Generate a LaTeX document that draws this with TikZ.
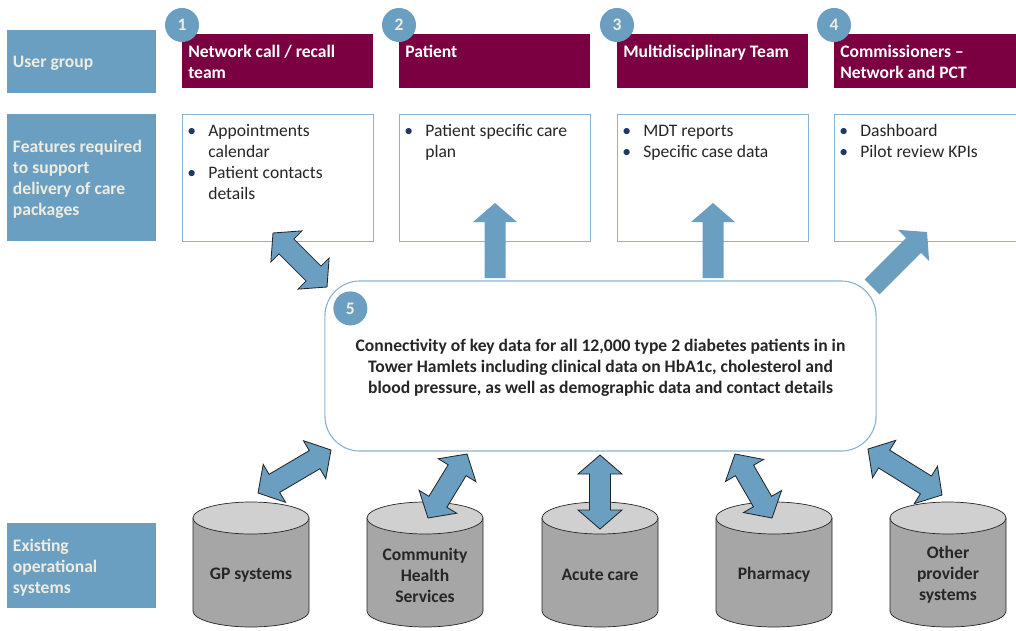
\documentclass[tikz,border=0pt]{standalone}
\usepackage{fontspec}
\setmainfont{Carlito}
\usetikzlibrary{calc,positioning}

\definecolor{steelblue}{RGB}{106,159,193}
\definecolor{plum}{RGB}{123,0,65}
\definecolor{cream}{RGB}{238,236,225}
\definecolor{edgeblue}{RGB}{141,179,210}
\definecolor{navy}{RGB}{31,56,100}
\definecolor{inkgray}{RGB}{38,38,38}
\definecolor{drumbody}{RGB}{166,166,166}
\definecolor{drumtop}{RGB}{208,208,208}

\newcommand\bodyfont{\fontsize{12.5}{14.9}\selectfont}

\tikzset{
    sidebox/.style = {fill=steelblue, minimum width=3.725cm, inner sep=0},
    sidetext/.style = {text=cream, anchor=west, inner sep=0, align=left,
        font=\bodyfont\bfseries},
    headbox/.style = {fill=plum, minimum width=4.775cm, minimum height=1.35cm,
        anchor=north west, inner sep=0},
    headtext/.style = {text=white, anchor=north west, inner sep=0,
        align=left, font=\bodyfont\bfseries},
    featbox/.style = {draw=edgeblue, fill=white, line width=0.8pt,
        minimum width=4.775cm, minimum height=3.175cm,
        anchor=north west, inner sep=0},
    feattext/.style = {text=inkgray, anchor=north west, inner sep=0,
        font=\bodyfont},
    numdot/.style = {circle, fill=steelblue, text=cream, minimum size=0.85cm,
        inner sep=0, font=\bodyfont\bfseries},
    hub/.style = {draw=edgeblue, line width=0.8pt, fill=white,
        rounded corners=0.875cm, minimum width=13.775cm,
        minimum height=4.25cm},
    hubtext/.style = {align=center, text=inkgray, inner sep=0,
        font=\bodyfont\bfseries},
    drum/.style = {fill=drumbody, draw=inkgray, line width=0.5pt},
    drumlid/.style = {fill=drumtop, draw=inkgray, line width=0.5pt},
    drumtext/.style = {align=center, text=inkgray, font=\bodyfont\bfseries},
    fatlink/.style = {fill=steelblue, draw=inkgray, line width=0.6pt},
    fatlink plain/.style = {fill=steelblue, draw=none}
}

% fat arrow sizes
\def\tiplen{0.475cm}
\def\tiphalf{0.55cm}
\def\shafthalf{0.2625cm}

\newcommand\bul{\textcolor{navy}{\textbullet}}

% double headed fat arrow between two coordinates
\newcommand\twoway[2]{%
    \filldraw[fatlink] (#1)
        -- ($(#1)!\tiplen!(#2)!\tiphalf!90:(#2)$)
        -- ($(#1)!\tiplen!(#2)!\shafthalf!90:(#2)$)
        -- ($(#2)!\tiplen!(#1)!\shafthalf!-90:(#1)$)
        -- ($(#2)!\tiplen!(#1)!\tiphalf!-90:(#1)$)
        -- (#2)
        -- ($(#2)!\tiplen!(#1)!\tiphalf!90:(#1)$)
        -- ($(#2)!\tiplen!(#1)!\shafthalf!90:(#1)$)
        -- ($(#1)!\tiplen!(#2)!\shafthalf!-90:(#2)$)
        -- ($(#1)!\tiplen!(#2)!\tiphalf!-90:(#2)$)
        -- cycle;}

% single headed fat arrow, tail at #1, tip at #2
\newcommand\oneway[2]{%
    \fill[fatlink plain] ($(#1)!\shafthalf!90:(#2)$)
        -- ($(#2)!\tiplen!(#1)!\shafthalf!-90:(#1)$)
        -- ($(#2)!\tiplen!(#1)!\tiphalf!-90:(#1)$)
        -- (#2)
        -- ($(#2)!\tiplen!(#1)!\tiphalf!90:(#1)$)
        -- ($(#2)!\tiplen!(#1)!\shafthalf!90:(#1)$)
        -- ($(#1)!\shafthalf!-90:(#2)$)
        -- cycle;}

% data store drum: name, x, text
\newcommand\drumat[3]{%
    \filldraw[drum] (#2-58,-518) -- (#2-58,-611)
        arc[start angle=180, end angle=360, x radius=58, y radius=16]
        -- (#2+58,-518) -- cycle;
    \filldraw[drumlid] (#2,-518) ellipse[x radius=58, y radius=16];
    \node[drumtext] (#1) at (#2,-575) {#3};
}

\begin{document}
\begin{tikzpicture}[x=0.025cm, y=0.025cm]
    \useasboundingbox (0,0) rectangle (1016,-630);
    \clip (0,0) rectangle (1016,-630);

    % row labels
    \node[sidebox, minimum height=1.575cm] (usersbox) at (81.5,-61.5) {};
    \node[sidebox, minimum height=3.175cm] (featbox) at (81.5,-177.5) {};
    \node[sidebox, minimum height=2.125cm] (sysbox) at (81.5,-565.5) {};
    \node[sidetext] (lblusers) at ($(usersbox.west)+(6,-2)$) {User group};
    \node[sidetext] (lblfeat) at ($(featbox.west)+(6,-2)$)
        {Features required\\to support\\delivery of care\\packages};
    \node[sidetext] (lblsys) at ($(sysbox.west)+(6,-2)$)
        {Existing\\operational\\systems};

    % user group columns
    \foreach \n/\x in {1/182,2/399,3/617,4/834}{
        \node[headbox] (head\n) at (\x,-34) {};
        \node[featbox] (feat\n) at (\x,-114) {};
    }
    \node[headtext] (headtxt1) at ($(head1.north west)+(6,-11)$) {Network call / recall\\team};
    \node[headtext] (headtxt2) at ($(head2.north west)+(6,-11)$) {Patient};
    \node[headtext] (headtxt3) at ($(head3.north west)+(6,-11)$) {Multidisciplinary Team};
    \node[headtext] (headtxt4) at ($(head4.north west)+(6,-11)$) {Commissioners --\\Network and PCT};
    \foreach \n/\x in {1/182,2/399,3/617,4/834}{
        \node[numdot] (num\n) at (\x,-25) {\n};
    }

    \node[feattext] (feattxt1) at ($(feat1.north west)+(5,-8)$)
        {\begin{tabular}{@{}p{0.525cm}@{}l@{}}
        \bul & Appointments\\ & calendar\\ \bul & Patient contacts\\ & details
        \end{tabular}};
    \node[feattext] (feattxt2) at ($(feat2.north west)+(5,-8)$)
        {\begin{tabular}{@{}p{0.525cm}@{}l@{}}
        \bul & Patient specific care\\ & plan
        \end{tabular}};
    \node[feattext] (feattxt3) at ($(feat3.north west)+(5,-8)$)
        {\begin{tabular}{@{}p{0.525cm}@{}l@{}}
        \bul & MDT reports\\ \bul & Specific case data
        \end{tabular}};
    \node[feattext] (feattxt4) at ($(feat4.north west)+(5,-8)$)
        {\begin{tabular}{@{}p{0.525cm}@{}l@{}}
        \bul & Dashboard\\ \bul & Pilot review KPIs
        \end{tabular}};

    % shared data hub
    \node[hub] (hub) at (600.5,-366) {};
    \node[hubtext] (hubtxt) at ($(hub.center)+(0,-2)$)
        {Connectivity of key data for all 12,000 type 2 diabetes patients in in\\
         Tower Hamlets including clinical data on HbA1c, cholesterol and\\
         blood pressure, as well as demographic data and contact details};
    \node[numdot] (num5) at ($(hub.north west)+(26,-28)$) {5};

    % operational systems
    \foreach \nm/\x/\txt in {gp/251/{GP systems}, comm/425/{Community\\Health\\Services},
        acute/600/{Acute care}, pharm/774/{Pharmacy}, other/948/{Other\\provider\\systems}}{
        \drumat{\nm}{\x}{\txt}
    }

    % link ends
    \coordinate (up1a) at (327,-287); \coordinate (up1b) at (273,-233);
    \coordinate (up2a) at (495,-278); \coordinate (up2b) at (495,-203);
    \coordinate (up3a) at (713,-278); \coordinate (up3b) at (713,-203);
    \coordinate (up4a) at (872,-287); \coordinate (up4b) at (927,-232);
    \coordinate (dn1a) at (258,-493); \coordinate (dn1b) at (331,-450);
    \coordinate (dn2a) at (428,-518); \coordinate (dn2b) at (467,-454);
    \coordinate (dn3a) at (600,-529); \coordinate (dn3b) at (600,-455);
    \coordinate (dn4a) at (772,-518); \coordinate (dn4b) at (735,-454);
    \coordinate (dn5a) at (942,-495); \coordinate (dn5b) at (868,-449);

    \twoway{up1a}{up1b}
    \oneway{up2a}{up2b}
    \oneway{up3a}{up3b}
    \oneway{up4a}{up4b}
    \foreach \a in {1,...,5}{
        \twoway{dn\a a}{dn\a b}
    }
\end{tikzpicture}
\end{document}
